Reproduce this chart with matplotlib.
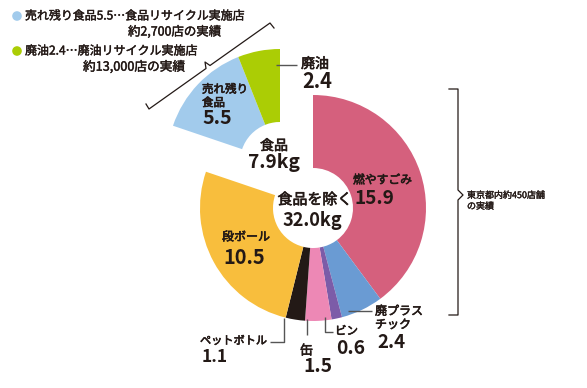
import matplotlib
matplotlib.use('Agg')
import matplotlib.pyplot as plt
from matplotlib.patches import Circle
import matplotlib.patheffects as pe

plt.rcParams['font.family'] = ['Noto Sans CJK JP', 'DejaVu Sans']

# ---- data ----
main_labels = ['燃やすごみ', '廃プラス\nチック', 'ビン', '缶', 'ペットボトル', '段ボール']
main_values = [15.9, 2.4, 0.6, 1.5, 1.1, 10.5]
main_colors = ['#D5607D', '#6A9BD3', '#7C5CA8', '#ED88B5', '#231916', '#F8BE3D']
food_labels = ['売れ残り\n食品', '廃油']
food_values = [5.5, 2.4]
food_colors = ['#A2CBEC', '#ABCD05']
main_center_text = '食品を除く'
main_total_text = '32.0kg'
food_center_text = '食品'
food_total_text = '7.9kg'
legend_lines = [('売れ残り食品5.5…食品リサイクル実施店', '約2,700店の実績'),
                ('廃油2.4…廃油リサイクル実施店', '約13,000店の実績')]
bracket_text = '東京都内約450店舗\nの実績'

W, H = 587, 388
fig = plt.figure(figsize=(W / 100, H / 100), dpi=100)
ax = fig.add_axes([0, 0, 1, 1])


def Y(y):
    return H - y


total = sum(main_values) + sum(food_values)
food_span = sum(food_values) / total * 360
R, WID = 113, 73
MC = (313, Y(208))
FC = (280, Y(162))

ax.pie([v / total for v in main_values], colors=main_colors, startangle=90,
       counterclock=False, normalize=False, radius=R, center=MC,
       wedgeprops=dict(width=WID, linewidth=0), frame=True)
ax.pie([v / total for v in food_values], colors=food_colors, startangle=90 + food_span,
       counterclock=False, normalize=False, radius=R, center=FC,
       wedgeprops=dict(width=WID, linewidth=0), frame=True)

ax.set_xlim(0, W)
ax.set_ylim(0, H)
ax.set_aspect('equal')
ax.axis('off')

renderer = fig.canvas.get_renderer()
TXT = '#231916'
LC = '#555555'


def stroke(w):
    return [pe.withStroke(linewidth=w, foreground=TXT)]


def fit(x, y, s, width, size, ha='left', bold=False, sw=0.45, **kw):
    """Place text and scale its font so that its widest line spans `width` px."""
    d = dict(fontsize=size, color=TXT, va='center', ha=ha)
    if bold:
        d['weight'] = 'bold'
    else:
        d['path_effects'] = stroke(sw)
    d.update(kw)
    t = ax.text(x, Y(y), s, **d)
    w = t.get_window_extent(renderer).width
    if w > 0:
        t.set_fontsize(size * width / w)
    return t


def line(xs, ys):
    ax.plot(xs, [Y(v) for v in ys], color=LC, lw=1.0, solid_capstyle='butt')


# centre texts
fit(274, 146, food_center_text, 28, 10, ha='center')
fit(274, 163, food_total_text, 52, 14, ha='center', bold=True)
fit(315, 200, main_center_text, 75, 10.5, ha='center')
fit(312, 220, main_total_text, 60, 14, ha='center', bold=True)

# food labels
fit(202, 96, food_labels[0], 46, 9, linespacing=1.05)
fit(202, 118, f'{food_values[0]}', 30, 14, bold=True)
line([276, 297], [65, 65])
fit(301, 64, food_labels[1], 28, 10)
fit(302, 82, f'{food_values[1]}', 30, 14, bold=True)

# main labels
fit(353, 180, main_labels[0], 59, 9)
fit(355, 199, f'{main_values[0]}', 40, 14, bold=True)
fit(222, 237, main_labels[5], 48, 9)
fit(223, 257, f'{main_values[5]}', 42, 14, bold=True)
# 廃プラスチック
line([348, 372], [311, 311])
fit(375, 318, main_labels[1], 48, 9, linespacing=1.05)
fit(377, 342, f'{main_values[1]}', 28, 14, bold=True)
# ビン
line([325, 325, 333], [317, 332, 332])
fit(335, 331, main_labels[2], 23, 9)
fit(336, 348, f'{main_values[2]}', 29, 14, bold=True)
# 缶
line([307, 307], [319, 335])
fit(300, 351, main_labels[3], 13, 9)
fit(303, 367, f'{main_values[3]}', 29, 14, bold=True)
# ペットボトル
line([270, 284, 284], [342, 342, 318])
fit(200, 341, main_labels[4], 67, 9)
fit(202, 357, f'{main_values[4]}', 26, 14, bold=True)

# legend
leg_x2 = [128, 83]
leg_w1 = [219, 172]
leg_w2 = [93, 102]
for i, (l1, l2) in enumerate(legend_lines):
    yy = [16, 51][i]
    ax.add_patch(Circle((17, Y(yy)), 4.8, color=food_colors[i], lw=0))
    fit(25, yy, l1, leg_w1[i], 8.5, sw=0.3)
    fit(leg_x2[i], yy + 16, l2, leg_w2[i], 8.5, sw=0.3)

# slanted brace
bx = [146, 149, 206, 205, 210, 270, 274]
by = [104, 109, 68.5, 62, 65.5, 23, 28]
ax.plot(bx, [Y(v) for v in by], color=TXT, lw=0.9)

# right bracket
rx = [449, 458, 458, 463, 458, 458, 449]
ry = [89, 89, 190, 195, 200, 315, 315]
ax.plot(rx, [Y(v) for v in ry], color=TXT, lw=0.9)
fit(467, 201, bracket_text, 78, 8, sw=0.25, linespacing=1.25)

fig.savefig('out.png', dpi=100)
